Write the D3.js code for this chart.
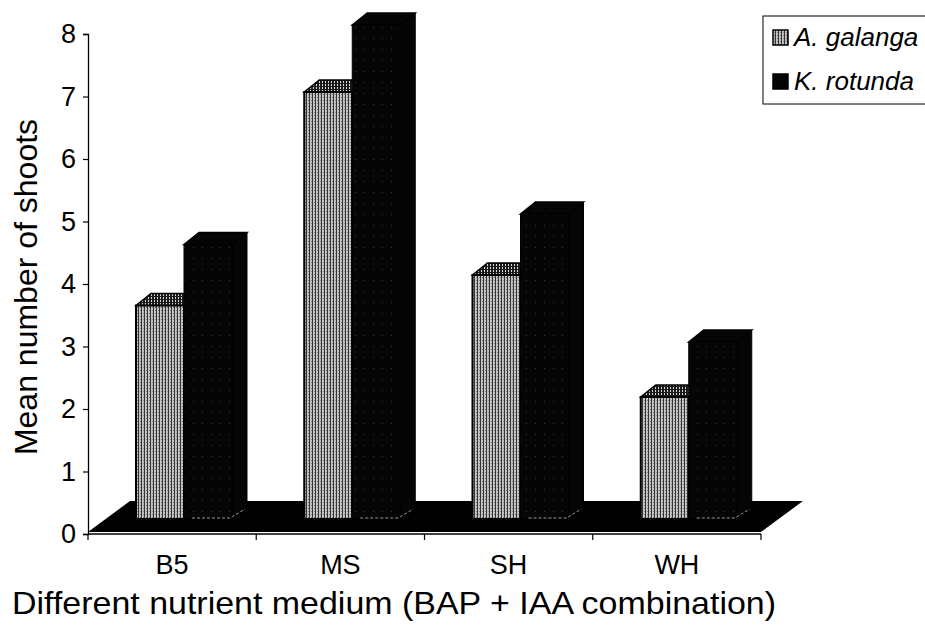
<!DOCTYPE html>
<html>
<head>
<meta charset="utf-8">
<script src="https://cdn.jsdelivr.net/npm/d3@7/dist/d3.min.js"></script>
<style>
  body { margin: 0; background: #fff; }
  svg { display: block; font-family: "Liberation Sans", Arial, sans-serif; }
</style>
</head>
<body>
<div id="chart"></div>
<script>
// --- data ---
const categories = ['B5', 'MS', 'SH', 'WH'];
const seriesNames = ['A. galanga', 'K. rotunda'];
const galanga = [3.5, 7.0, 4.0, 2.0];
const rotunda = [4.5, 8.1, 5.0, 2.9];
const yTicks = [0, 1, 2, 3, 4, 5, 6, 7, 8];

const width = 925, height = 627;

const svg = d3.select('#chart').append('svg')
  .attr('width', width)
  .attr('height', height);

// patterns for the scanned-looking fills
const defs = svg.append('defs');
const light = defs.append('pattern')
  .attr('id', 'lightFill').attr('patternUnits', 'userSpaceOnUse')
  .attr('width', 3).attr('height', 3);
light.append('rect').attr('width', 3).attr('height', 3).attr('fill', '#c4c4c4');
light.append('rect').attr('width', 1).attr('height', 3).attr('fill', '#333');
light.append('rect').attr('x', 2).attr('y', 1).attr('width', 1).attr('height', 1).attr('fill', '#7a7a7a');

const lightTop = defs.append('pattern')
  .attr('id', 'lightTop').attr('patternUnits', 'userSpaceOnUse')
  .attr('width', 3).attr('height', 3);
lightTop.append('rect').attr('width', 3).attr('height', 3).attr('fill', '#1a1a1a');
lightTop.append('rect').attr('x', 1).attr('width', 1).attr('height', 2).attr('fill', '#d8d8d8');

const darkFill = defs.append('pattern')
  .attr('id', 'darkFill').attr('patternUnits', 'userSpaceOnUse')
  .attr('width', 9).attr('height', 11);
darkFill.append('rect').attr('width', 9).attr('height', 11).attr('fill', '#050505');
darkFill.append('rect').attr('x', 4).attr('y', 5).attr('width', 1).attr('height', 1).attr('fill', '#3a3a3a');

// scales: axis is drawn on its own scale, bars use the projected front face
const axisLeft = 88, axisRight = 761, axisBottom = 534;
const y = d3.scaleLinear().domain([0, 8]).range([axisBottom, 34]);
const yBar = d3.scaleLinear().domain([0, 8]).range([519, 31]);

const x0 = d3.scaleBand().domain(categories).range([axisLeft, axisRight]);
const x1 = d3.scaleBand().domain(seriesNames).range([48, 144]);

const depth = { dx: 15, dy: -12 };      // bar depth
const floorDepth = { dx: 42, dy: -31 }; // floor depth

// floor
svg.append('path')
  .attr('d', d3.line()([
    [axisLeft, axisBottom - 2],
    [axisRight, axisBottom - 2],
    [axisRight + floorDepth.dx, axisBottom - 2 + floorDepth.dy],
    [axisLeft + floorDepth.dx, axisBottom - 2 + floorDepth.dy]
  ]) + 'Z')
  .attr('fill', '#000');

// bars
const rows = categories.map((c, i) => ({
  cat: c,
  vals: [
    { name: seriesNames[0], v: galanga[i] },
    { name: seriesNames[1], v: rotunda[i] }
  ]
}));

const barW = x1.bandwidth();

function drawBar(g, x, v, isLight) {
  const top = yBar(v), bot = yBar(0);
  const { dx, dy } = depth;
  // side
  g.append('path')
    .attr('d', d3.line()([[x + barW, top], [x + barW + dx, top + dy], [x + barW + dx, bot + dy], [x + barW, bot]]) + 'Z')
    .attr('fill', isLight ? '#777' : '#050505')
    .attr('stroke', '#000').attr('stroke-width', 1);
  // top
  g.append('path')
    .attr('d', d3.line()([[x, top], [x + barW, top], [x + barW + dx, top + dy], [x + dx, top + dy]]) + 'Z')
    .attr('fill', isLight ? 'url(#lightTop)' : '#050505')
    .attr('stroke', '#000').attr('stroke-width', 1.5);
  // front
  g.append('rect')
    .attr('x', x).attr('y', top)
    .attr('width', barW).attr('height', bot - top)
    .attr('fill', isLight ? 'url(#lightFill)' : 'url(#darkFill)')
    .attr('stroke', '#000').attr('stroke-width', isLight ? 2 : 1);
  if (!isLight) {
    // faint highlight along the bottom edge of the dark bars
    g.append('path')
      .attr('d', d3.line()([[x + 8, bot - 1], [x + barW - 2, bot - 1], [x + barW + dx - 2, bot + dy + 2]]))
      .attr('fill', 'none')
      .attr('stroke', '#bbb').attr('stroke-width', 0.8)
      .attr('stroke-dasharray', '3,2');
  }
}

rows.forEach(r => {
  const g = svg.append('g').attr('class', 'cat');
  r.vals.forEach((d, j) => {
    drawBar(g, x0(r.cat) + x1(d.name), d.v, j === 0);
  });
});

// y axis
const yAxisG = svg.append('g')
  .attr('transform', `translate(${axisLeft},0)`)
  .call(d3.axisLeft(y).tickValues(yTicks).tickSize(5).tickPadding(7).tickFormat(d3.format('d')));
yAxisG.select('.domain').attr('stroke', '#000').attr('stroke-width', 1.3);
yAxisG.selectAll('.tick line').attr('stroke', '#000').attr('stroke-width', 1.2);
yAxisG.selectAll('.tick text')
  .attr('fill', '#000')
  .style('font-size', '27px');

// x axis (ticks at category boundaries)
const xAxisG = svg.append('g')
  .attr('transform', `translate(0,${axisBottom})`);
xAxisG.append('line')
  .attr('x1', axisLeft).attr('x2', axisRight)
  .attr('stroke', '#000').attr('stroke-width', 1.3);
const xBounds = categories.map(c => x0(c)).concat([axisRight]);
xAxisG.selectAll('line.tk')
  .data(xBounds)
  .join('line')
  .attr('class', 'tk')
  .attr('x1', d => d).attr('x2', d => d)
  .attr('y1', 0).attr('y2', 6)
  .attr('stroke', '#000').attr('stroke-width', 1.2);
xAxisG.selectAll('text')
  .data(categories)
  .join('text')
  .attr('x', d => x0(d) + x0.bandwidth() / 2)
  .attr('y', 40)
  .attr('text-anchor', 'middle')
  .style('font-size', '27px')
  .text(d => d);

// axis titles
svg.append('text')
  .attr('x', 12).attr('y', 614)
  .attr('textLength', 764)
  .attr('lengthAdjust', 'spacingAndGlyphs')
  .style('font-size', '32px')
  .text('Different nutrient medium (BAP + IAA combination)');

svg.append('text')
  .attr('transform', 'translate(37,287) rotate(-90)')
  .attr('text-anchor', 'middle')
  .style('font-size', '32px')
  .text('Mean number of shoots');

// legend
const legend = svg.append('g').attr('transform', 'translate(763,16)');
legend.append('rect')
  .attr('width', 180).attr('height', 88)
  .attr('fill', '#fff')
  .attr('stroke', '#000').attr('stroke-width', 1);
const legendFills = ['url(#lightFill)', '#050505'];
seriesNames.forEach((s, i) => {
  const gy = 21 + i * 44;
  legend.append('rect')
    .attr('x', 10).attr('y', gy - 7)
    .attr('width', 15).attr('height', 15)
    .attr('fill', legendFills[i])
    .attr('stroke', '#000').attr('stroke-width', 1.5);
  legend.append('text')
    .attr('x', 31).attr('y', gy + 9)
    .style('font-size', '26px')
    .style('font-style', 'italic')
    .text(s);
});
</script>
</body>
</html>
